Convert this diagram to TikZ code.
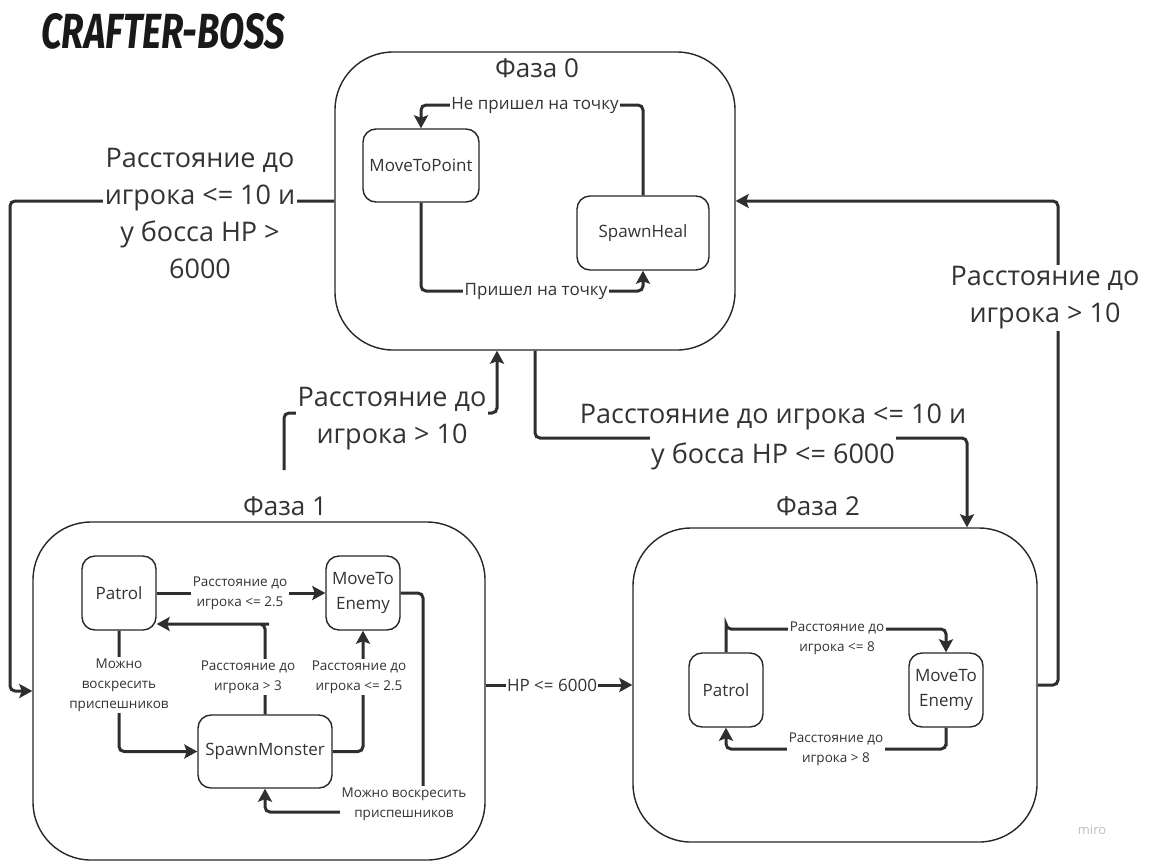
\documentclass[tikz,border=0pt]{standalone}
\usepackage{fontspec}
\usepackage{graphicx}
\setmainfont{Open Sans}
\newfontfamily\titlefont{Fira Sans}
\usetikzlibrary{arrows.meta,calc}
\definecolor{ink}{HTML}{333333}
\definecolor{edge}{HTML}{2E2E2E}
\begin{document}
\begin{tikzpicture}[x=1pt,y=-1pt,
  conn/.style={draw=edge, line width=3pt, rounded corners=5pt, -{Stealth[length=13pt,width=14pt,inset=2.5pt]}},
  lbl/.style={fill=white, text=ink, inner sep=1.5pt, align=center},
  big/.style={lbl, font=\fontsize{27}{37}\selectfont},
  mid/.style={lbl, font=\fontsize{17}{23}\selectfont},
  small/.style={lbl, font=\fontsize{13.5}{20}\selectfont},
  state/.style={draw=black!85, line width=1.4pt, rounded corners=13pt, text=ink, align=center, font=\fontsize{17}{25}\selectfont, inner sep=0pt},
  phase/.style={draw=black!85, line width=1.4pt, rounded corners=58pt},
  ptitle/.style={text=ink, font=\fontsize{26}{30}\selectfont}
]
\useasboundingbox (0,0) rectangle (1158,863);

% title
\node[anchor=west, text=black!90, inner sep=0pt] (title) at (41,31)
  {\titlefont\bfseries\itshape\fontsize{47}{47}\selectfont\scalebox{0.78}[1.05]{CRAFTER-BOSS}};

% phase boxes
\node[phase, minimum width=400pt, minimum height=298pt] (p0) at (535,201) {};
\node[phase, minimum width=452pt, minimum height=338pt] (p1) at (259,691) {};
\node[phase, minimum width=404pt, minimum height=314pt] (p2) at (835,685) {};

\node[ptitle] (t0) at (537,68) {Фаза 0};
\node[ptitle] (t1) at (285,506) {Фаза 1};
\node[ptitle] (t2) at (818,506) {Фаза 2};

% phase 0 states
\node[state, minimum width=116pt, minimum height=73pt] (mtp) at (421,165.5) {MoveToPoint};
\node[state, minimum width=132pt, minimum height=74pt] (sh) at (643,233) {SpawnHeal};

% phase 1 states
\node[state, minimum width=74pt, minimum height=74pt] (pat1) at (119,593) {Patrol};
\node[state, minimum width=74pt, minimum height=74pt] (mte1) at (363,593) {MoveTo\\Enemy};
\node[state, minimum width=134pt, minimum height=73pt] (sm) at (265,751.5) {SpawnMonster};

% phase 2 states
\node[state, minimum width=74pt, minimum height=74pt] (pat2) at (726,690) {Patrol};
\node[state, minimum width=74pt, minimum height=74pt] (mte2) at (946,690) {MoveTo\\Enemy};

% helper coordinates
\coordinate (a0) at (421,105);
\coordinate (a1) at (421,291);
\coordinate (aL) at (10,201);
\coordinate (bS) at (284,470);
\coordinate (bT) at (497,413);
\coordinate (cT) at (967,438);
\coordinate (dR) at (1058,685);
\coordinate (e2) at (264,624);
\coordinate (e5) at (423,812);
\coordinate (f1) at (726,629);
\coordinate (f2) at (946,749);

% phase 0 edges
\draw[conn] (sh.north) |- (a0) -- (mtp.north);
\draw[conn] (mtp.south) |- (sh.south |- a1) -- (sh.south);

% phase 1 edges
\draw[conn] (pat1.east) -- (mte1.west);
\draw[conn] (sm.north) |- (e2) -- ([yshift=-31pt]pat1.east);
\draw[conn] (sm.east) -| (mte1.south);
\draw[conn] (pat1.south) |- (sm.west);
\draw[conn] (mte1.east) -| (e5) -| (sm.south);

% phase 2 edges
\draw[conn] (pat2.north) |- (f1) -| (mte2.north);
\draw[conn] (mte2.south) |- (f2) -| (pat2.south);

% phase-level edges
\draw[conn] (p0.west) -- (aL) |- (p1.west);
\draw[conn] (bS) |- (bT) -- (bT |- p0.south);
\draw[conn] (p0.south) |- (cT) -- (cT |- p2.north);
\draw[conn] (p2.east) -- (dR) |- (p0.east);
\draw[conn] (p2.west -| p1.east) -- (p2.west);

% labels
\node[mid] (l0a) at (535,105) {Не пришел на точку};
\node[mid] (l0b) at (536,291) {Пришел на точку};

\node[small] (l11) at (240,593) {Расстояние до\\игрока <= 2.5};
\node[small] (l12) at (248,677) {Расстояние до\\игрока > 3};
\node[small] (l13) at (359,677) {Расстояние до\\игрока <= 2.5};
\node[small] (l14) at (119,685) {Можно\\воскресить\\приспешников};
\node[small] (l15) at (404,804) {Можно воскресить\\приспешников};

\node[small] (l21) at (837,638) {Расстояние до\\игрока <= 8};
\node[small] (l22) at (836,749) {Расстояние до\\игрока > 8};

\node[big] (lA) at (200,213) {Расстояние до\\игрока <= 10 и\\у босса HP >\\6000};
\node[big] (lB) at (392,419) {Расстояние до\\игрока > 10};
\node[big, fill=none] (lC1) at (773,417) {Расстояние до игрока <= 10 и};
\node[big, inner ysep=7pt] (lC2) at (773,456) {у босса HP <= 6000};
\node[big] (lD) at (1045,298) {Расстояние до\\игрока > 10};
\node[mid] (lE) at (552,685) {HP <= 6000};

\node[text=black!25, font=\fontsize{13}{13}\selectfont] (miro) at (1092,830) {miro};
\end{tikzpicture}
\end{document}
